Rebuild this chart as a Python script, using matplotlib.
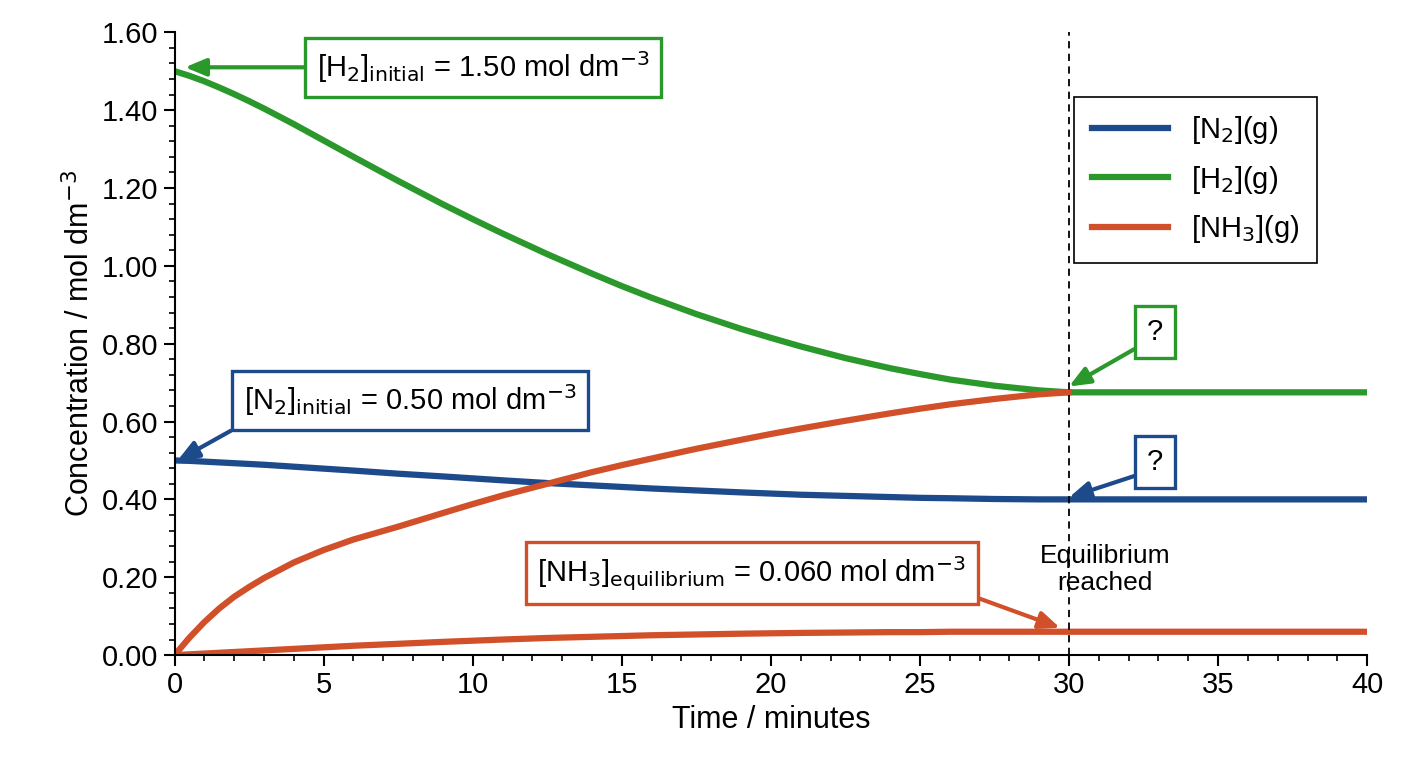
import matplotlib
matplotlib.use("Agg")
import matplotlib.pyplot as plt
from matplotlib.ticker import MultipleLocator

t = [0, 0.5, 1, 1.5, 2, 2.5, 3, 4, 5, 6, 7.5, 9, 10, 11, 12.5, 14, 15, 16, 17.5, 19, 20, 21, 22.5, 24, 25, 26, 27.5, 29, 30, 35, 40]
h2 = [1.50, 1.488, 1.474, 1.458, 1.441, 1.423, 1.404, 1.364, 1.322, 1.28, 1.218, 1.158, 1.12, 1.083, 1.03, 0.98, 0.948, 0.918, 0.876, 0.838, 0.815, 0.793, 0.763, 0.737, 0.722, 0.708, 0.692, 0.68, 0.675, 0.675, 0.675]
n2 = [0.50, 0.499, 0.497, 0.495, 0.493, 0.491, 0.489, 0.484, 0.479, 0.474, 0.466, 0.459, 0.454, 0.449, 0.442, 0.436, 0.432, 0.428, 0.423, 0.418, 0.415, 0.412, 0.409, 0.406, 0.404, 0.403, 0.401, 0.400, 0.40, 0.40, 0.40]
nh3_up = [0.0, 0.045, 0.085, 0.12, 0.15, 0.175, 0.198, 0.238, 0.27, 0.297, 0.33, 0.365, 0.388, 0.41, 0.44, 0.47, 0.488, 0.505, 0.53, 0.553, 0.568, 0.582, 0.602, 0.621, 0.633, 0.644, 0.658, 0.67, 0.675]
nh3 = [0.0, 0.002, 0.004, 0.006, 0.008, 0.01, 0.012, 0.016, 0.02, 0.024, 0.029, 0.034, 0.037, 0.04, 0.044, 0.047, 0.049, 0.051, 0.053, 0.055, 0.056, 0.057, 0.058, 0.059, 0.059, 0.06, 0.06, 0.06, 0.06, 0.06, 0.06]

BLUE, GREEN, ORANGE = "#1d4a8a", "#2a982a", "#d1502a"
plt.rcParams['font.family'] = ['Liberation Sans', 'DejaVu Sans']
fig = plt.figure(figsize=(14.08, 7.68), dpi=100)
ax = fig.add_axes([0.124, 0.147, 0.847, 0.811])
ax.plot(t, n2, color=BLUE, lw=4.5, label="[N$_2$](g)")
ax.plot(t, h2, color=GREEN, lw=4.5, label="[H$_2$](g)")
ax.plot(t[:len(nh3_up)], nh3_up, color=ORANGE, lw=4.5)
ax.plot(t, nh3, color=ORANGE, lw=4.5, label="[NH$_3$](g)")
ax.axvline(30, color='black', ls=(0, (4, 3)), lw=1.3)
ax.set_xlim(0, 40); ax.set_ylim(0, 1.6)
ax.xaxis.set_major_locator(MultipleLocator(5)); ax.xaxis.set_minor_locator(MultipleLocator(1))
ax.yaxis.set_major_locator(MultipleLocator(0.2)); ax.yaxis.set_minor_locator(MultipleLocator(0.04))
ax.yaxis.set_major_formatter(lambda v, p: f"{v:.2f}")
for s in ['top', 'right']: ax.spines[s].set_visible(False)
for s in ['left', 'bottom']: ax.spines[s].set_linewidth(1.5)
ax.tick_params(which='major', length=8, width=1.5, labelsize=21)
ax.tick_params(which='minor', length=4, width=1.2)
ax.set_xlabel("Time / minutes", fontsize=22)
ax.set_ylabel("Concentration / mol dm$^{-3}$", fontsize=22)
leg = ax.legend(loc='upper right', bbox_to_anchor=(0.97, 0.92), fontsize=21, fancybox=False,
                edgecolor='black', framealpha=1, handlelength=2.6, labelspacing=0.6, borderpad=0.6)
leg.get_frame().set_linewidth(1.2)

def ann(txt, xy, xyt, col, rel):
    ax.annotate(txt, xy=xy, xytext=xyt, ha='center', va='center', fontsize=21,
                bbox=dict(boxstyle='square,pad=0.4', fc='white', ec=col, lw=2.4),
                arrowprops=dict(arrowstyle='-|>,head_length=0.6,head_width=0.25', color=col, lw=3,
                                relpos=rel, shrinkA=0, shrinkB=0))

ann("[H$_2$]$_{\\rm initial}$ = 1.50 mol dm$^{-3}$", (0.35, 1.51), (10.34, 1.51), GREEN, (0, 0.5))
ann("[N$_2$]$_{\\rm initial}$ = 0.50 mol dm$^{-3}$", (0.1, 0.50), (7.89, 0.655), BLUE, (0.03, 0))
ann("?", (30, 0.69), (32.89, 0.83), GREEN, (0, 0.15))
ann("?", (30, 0.405), (32.89, 0.496), BLUE, (0, 0.15))
ann("[NH$_3$]$_{\\rm equilibrium}$ = 0.060 mol dm$^{-3}$", (29.7, 0.07), (19.36, 0.21), ORANGE, (0.98, 0.05))
ax.text(31.2, 0.22, "Equilibrium\nreached", fontsize=19, ha='center', va='center')
fig.savefig("out.png", dpi=100)
